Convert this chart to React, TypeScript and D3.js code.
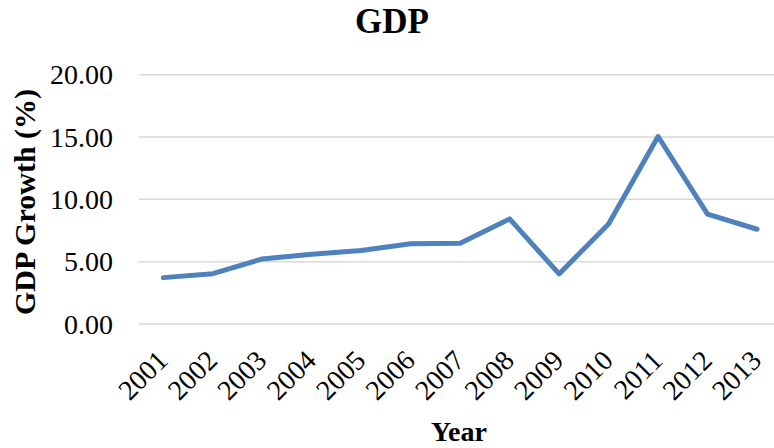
import React from "react";
import * as d3 from "d3";

const years = ["2001","2002","2003","2004","2005","2006","2007","2008","2009","2010","2011","2012","2013"];
const gdpGrowth = [3.72, 4.04, 5.22, 5.6, 5.89, 6.43, 6.48, 8.43, 4.02, 8.03, 15.04, 8.81, 7.6];
const yTicks = [0, 5, 10, 15, 20];

const W = 774;
const H = 448;
const font = "'Liberation Serif', 'Times New Roman', serif";

export default function App() {
  const x = d3.scalePoint<string>().domain(years).range([163.3, 757]);
  const y = d3.scaleLinear().domain([0, 20]).range([324, 74.7]);
  const gridLeft = 139;
  const gridRight = 774;
  const line = d3
    .line<number>()
    .x((_, i) => x(years[i]) as number)
    .y((d) => y(d));

  return (
    <svg
      width={W}
      height={H}
      style={{ position: "absolute", left: 0, top: 0, background: "#fff" }}
      fontFamily={font}
    >
      <rect x={0} y={0} width={W} height={H} fill="#fff" />
      <text x={392} y={33} textAnchor="middle" fontSize={35} fontWeight="bold" fill="#000">
        GDP
      </text>
      {yTicks.map((t) => (
        <g key={t}>
          <line x1={gridLeft} x2={gridRight} y1={y(t)} y2={y(t)} stroke="#D9D9D9" strokeWidth={1.5} />
          <text x={113} y={y(t) + 9.5} textAnchor="end" fontSize={28} fill="#000">
            {d3.format(".2f")(t)}
          </text>
        </g>
      ))}
      <path
        d={line(gdpGrowth) || ""}
        fill="none"
        stroke="#4F81BD"
        strokeWidth={5}
        strokeLinejoin="round"
        strokeLinecap="round"
      />
      {years.map((yr) => (
        <text
          key={yr}
          transform={`translate(${(x(yr) as number) + 6},362) rotate(-45)`}
          textAnchor="end"
          fontSize={28}
          fill="#000"
        >
          {yr}
        </text>
      ))}
      <text
        transform="translate(35,202) rotate(-90)"
        textAnchor="middle"
        fontSize={30}
        fontWeight="bold"
        fill="#000"
      >
        GDP Growth (%)
      </text>
      <text x={459} y={441} textAnchor="middle" fontSize={28} fontWeight="bold" fill="#000">
        Year
      </text>
    </svg>
  );
}
